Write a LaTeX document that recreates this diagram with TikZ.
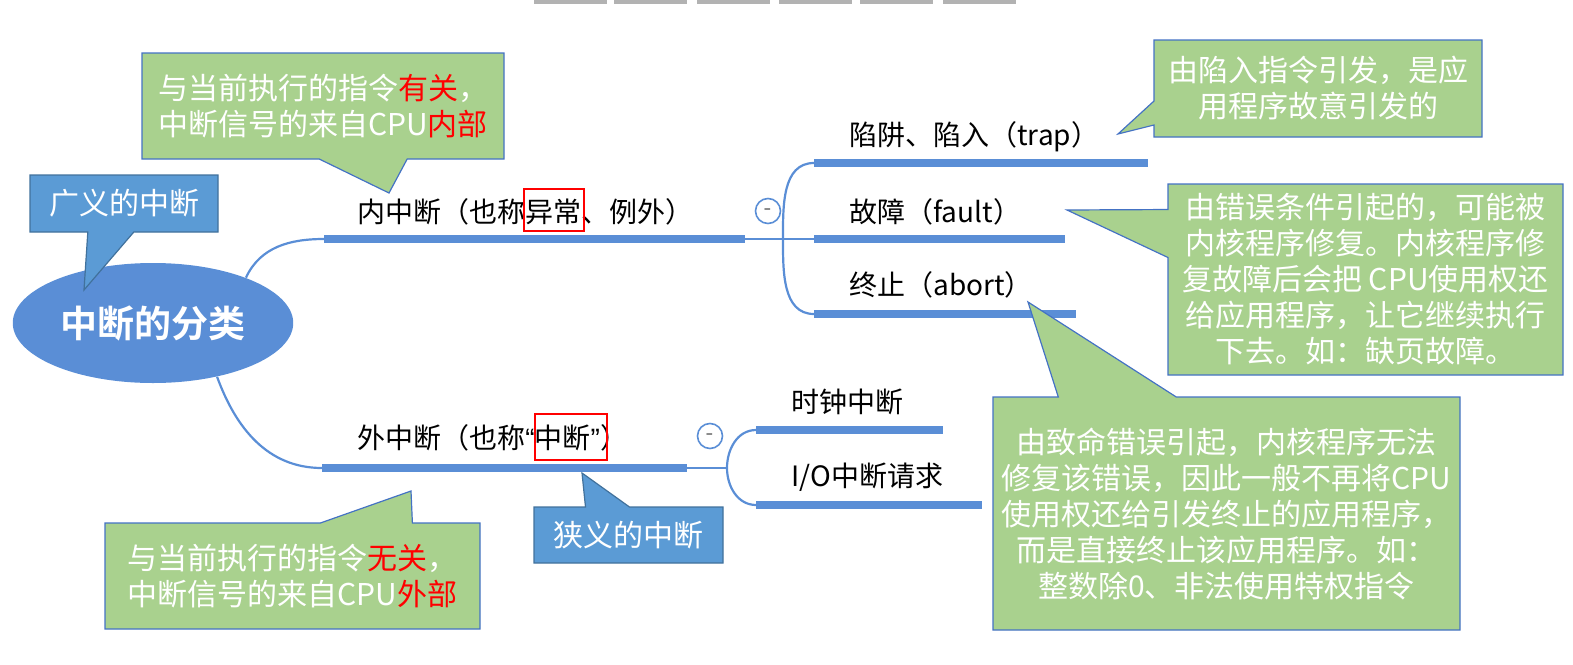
\documentclass[tikz,border=0pt]{standalone}
\usepackage{fontspec}
\usetikzlibrary{shapes.geometric,shapes.callouts}
\newfontfamily\cjk{Noto Sans CJK SC}[BoldFont={Noto Sans CJK SC Bold}]
\newfontfamily\latin{Liberation Sans}
\definecolor{barblue}{HTML}{5A8ED6}
\definecolor{boxblue}{HTML}{5B9BD5}
\definecolor{boxedge}{HTML}{41719C}
\definecolor{notegreen}{HTML}{A9D18E}
\definecolor{noteedge}{HTML}{4472C4}

\begin{document}
\begin{tikzpicture}[x=0.5pt,y=-0.5pt,
    bar/.style={barblue,line width=4pt},
    twig/.style={barblue,line width=1.1pt},
    branch/.style={anchor=west,inner sep=0pt,font=\cjk\fontsize{14pt}{17pt}\selectfont},
    note/.style={rectangle callout,fill=notegreen,draw=noteedge,line width=0.6pt,text=white,align=center,inner sep=0pt,font=\cjk\fontsize{15pt}{18pt}\selectfont},
    tag/.style={note,fill=boxblue,draw=boxedge},
    fold/.style={circle,draw=barblue,line width=0.8pt,fill=white,minimum size=12.5pt,inner sep=0pt,text=gray,font=\bfseries\small},
    redbox/.style={draw=red,line width=1.2pt,inner sep=0pt}]
    \useasboundingbox (0,0) rectangle (1573,664);
    \foreach \x in {534,614,697,779,860,943}
        \fill[gray!60] (\x,0) rectangle +(73,4);

    \node[ellipse,fill=barblue,minimum width=135pt,minimum height=60pt,text=white,font=\cjk\bfseries\fontsize{18.5pt}{22pt}\selectfont] (root) at (153,323) {中断的分类};

    \coordinate (inA) at (324,239); \coordinate (inB) at (745,239); \coordinate (inJ) at (783,239);
    \coordinate (exA) at (322,468); \coordinate (exB) at (687,468); \coordinate (exJ) at (727,468);
    \coordinate (trapA) at (814,163); \coordinate (trapB) at (1148,163);
    \coordinate (faultA) at (814,239); \coordinate (faultB) at (1065,239);
    \coordinate (abortA) at (814,314); \coordinate (abortB) at (1076,314);
    \coordinate (clockA) at (756,430); \coordinate (clockB) at (943,430);
    \coordinate (ioA) at (756,505); \coordinate (ioB) at (982,505);

    \draw[bar] (inA)--(inB);
    \draw[bar] (exA)--(exB);
    \draw[bar] (trapA)--(trapB);
    \draw[bar] (faultA)--(faultB);
    \draw[bar] (abortA)--(abortB);
    \draw[bar] (clockA)--(clockB);
    \draw[bar] (ioA)--(ioB);

    \draw[twig] (root.26) to[out=65,in=180] (inA);
    \draw[twig] (root.-40) to[out=-70,in=180] (exA);
    \draw[twig] (inB)--(inJ)--(faultA);
    \draw[twig] (trapA) to[out=180,in=90] (inJ) to[out=-90,in=180] (abortA);
    \draw[twig] (exB)--(exJ);
    \draw[twig] (clockA) to[out=180,in=90] (exJ) to[out=-90,in=180] (ioA);

    \node[fold] (infold) at (768,211) {-};
    \node[fold] (exfold) at (710,436) {-};

    \node[branch] (inner) at (357,212) {内中断（也称异常、例外）};
    \node[branch] (outer) at (357,438) {外中断（也称{\latin“}中断{\latin”}）};
    \node[branch] (trap) at (849,137) {陷阱、陷入（trap）};
    \node[branch] (fault) at (849,212) {故障（fault）};
    \node[branch] (abort) at (849,285) {终止（abort）};
    \node[branch] (clock) at (791,402) {时钟中断};
    \node[branch] (io) at (791,477) {I/O中断请求};
    \node[redbox,minimum width=30pt,minimum height=21pt] (ycbox) at (554,210) {};
    \node[redbox,minimum width=36pt,minimum height=23pt] (zdbox) at (571,437) {};

    \node[tag,minimum width=94pt,minimum height=28.5pt,callout absolute pointer={(84,290)},callout pointer width=23pt] (wide) at (124,203.5) {广义的中断};
    \node[tag,minimum width=94.5pt,minimum height=28pt,callout absolute pointer={(582,473)},callout pointer width=22pt] (narrow) at (628.5,535) {狭义的中断};
    \node[note,minimum width=181pt,minimum height=53pt,callout absolute pointer={(389,193)},callout pointer width=44pt] (innote) at (323,106) {与当前执行的指令\textcolor{red}{有关}，\\中断信号的来自CPU\textcolor{red}{内部}};
    \node[note,minimum width=187.5pt,minimum height=53pt,callout absolute pointer={(411,491)},callout pointer width=46pt] (exnote) at (292.5,576) {与当前执行的指令\textcolor{red}{无关}，\\中断信号的来自CPU\textcolor{red}{外部}};
    \node[note,minimum width=164pt,minimum height=48.5pt,callout absolute pointer={(1118,134)},callout pointer width=12pt] (trapnote) at (1318,88.5) {由陷入指令引发，是应\\用程序故意引发的};
    \node[note,minimum width=197.5pt,minimum height=95.5pt,callout absolute pointer={(1067,210)},callout pointer width=24pt] (faultnote) at (1365.5,279.5) {由错误条件引起的，可能被\\内核程序修复。内核程序修\\复故障后会把 CPU使用权还\\给应用程序，让它继续执行\\下去。如：缺页故障。};
    \node[note,minimum width=233.5pt,minimum height=116.5pt,callout absolute pointer={(1028,302)},callout pointer width=59pt] (abortnote) at (1226.5,513.5) {由致命错误引起，内核程序无法\\修复该错误，因此一般不再将CPU\\使用权还给引发终止的应用程序，\\而是直接终止该应用程序。如：\\整数除0、非法使用特权指令};
\end{tikzpicture}
\end{document}
